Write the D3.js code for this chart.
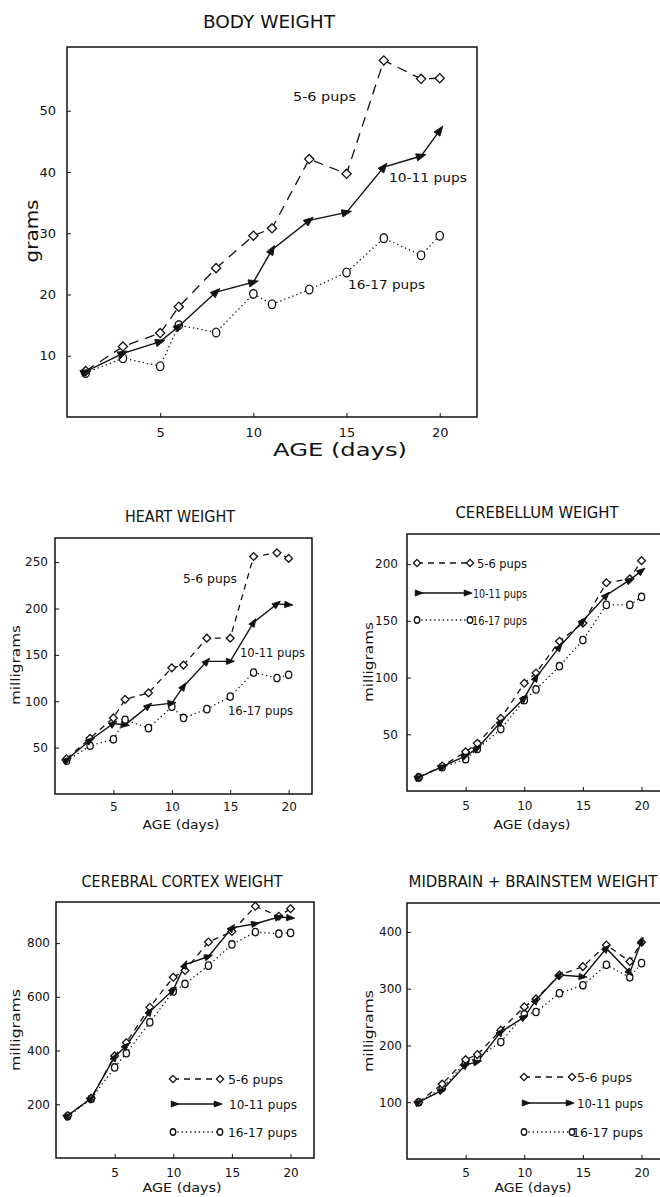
<!DOCTYPE html>
<html>
<head>
<meta charset="utf-8">
<script src="https://cdn.jsdelivr.net/npm/d3@7"></script>
<style>
  body { margin: 0; background: #fff; }
  text { font-family: "DejaVu Sans", sans-serif; fill: #111; }
</style>
</head>
<body>
<div id="chart"></div>
<script>
// data
const days = [1, 3, 5, 6, 8, 10, 11, 13, 15, 17, 19, 20];
const groups = ['5-6 pups', '10-11 pups', '16-17 pups'];
const xTicks = [5, 10, 15, 20];

const body5 = [7.5, 11.5, 13.7, 18, 24.3, 29.6, 30.8, 42.1, 39.7, 58.2, 55.2, 55.3];
const body10 = [7.4, 10.4, 12.3, 14.8, 20.4, 22, 27.3, 32.1, 33.4, 40.8, 42.6, 46.8];
const body16 = [7.2, 9.6, 8.3, 15, 13.8, 20.1, 18.4, 20.8, 23.6, 29.2, 26.4, 29.6];
const bodyTicks = [10, 20, 30, 40, 50];

const heart5 = [38, 60, 82, 102, 109, 136, 139, 168, 168, 256, 260, 254];
const heart10 = [37, 58, 76, 74.5, 95, 98, 116, 143, 143, 185, 205, 204];
const heart16 = [36, 52, 59, 80, 71, 94, 82, 91.5, 105, 131, 125, 128.5];
const heartTicks = [50, 100, 150, 200, 250];

const cereb5 = [12, 22, 34.5, 42, 64, 95, 104, 132, 148, 183.5, 187, 203];
const cereb10 = [12, 21.5, 31, 37.5, 61, 82, 100, 127, 150, 172.5, 186, 194];
const cereb16 = [12, 21, 28, 37, 54.6, 80, 89.5, 110, 133, 164, 164, 171];
const cerebTicks = [50, 100, 150, 200];

const cortex5 = [158, 222, 380, 430, 561, 673, 698, 804, 843, 937, 900, 928];
const cortex10 = [158, 222, 376, 418, 545, 626, 720, 750, 857, 872, 897, 894];
const cortex16 = [155, 220, 337, 390, 505, 620, 648, 716, 795, 841, 835, 838];
const cortexTicks = [200, 400, 600, 800];

const mid5 = [100, 132, 175, 184, 227, 268, 282, 324, 339, 377, 348, 382];
const mid10 = [100, 121, 166, 171, 224, 250, 280, 324, 321, 371, 328, 384];
const mid16 = [100, 125, 170, 178, 206, 255, 259, 292, 306, 342, 320, 345];
const midTicks = [100, 200, 300, 400];

const width = 660, height = 1197;
const ink = '#111';

let svg = d3.select('#chart').append('svg')
  .attr('width', width).attr('height', height);
svg.append('rect').attr('width', width).attr('height', height).attr('fill', '#fff');

// 1. panel layout
let panels = [
  {title: 'BODY WEIGHT', series: [body5, body10, body16], ymax: 60.4, yTicks: bodyTicks,
   left: 67, right: 477, top: 47, bottom: 417, ms: 4.6, dash: '10,7', tick: 13, big: true,
   ypad: 11, xpad: 11, titleAt: [269, 28, 132, 18], ylab: ['grams', 38, 231, 63, 17],
   xlab: [340, 456, 134, 18],
   labels: [[293, 101, 63], [389, 182, 78], [348, 289, 77]]},
  {title: 'HEART WEIGHT', series: [heart5, heart10, heart16], ymax: 276, yTicks: heartTicks,
   left: 55, right: 312, top: 538, bottom: 794, ms: 3.9, dash: '6,5', tick: 12,
   ypad: 7, xpad: 8, titleAt: [180, 522, 110, 15], ylab: ['milligrams', 20, 665, 80, 12],
   xlab: [181, 829, 77, 13],
   labels: [[183, 583, 54], [240, 657, 65], [228, 715, 65]]},
  {title: 'CEREBELLUM WEIGHT', series: [cereb5, cereb10, cereb16], ymax: 226.5, yTicks: cerebTicks,
   left: 407, right: 665, top: 534, bottom: 791, ms: 3.9, dash: '6,5', tick: 12,
   ypad: 9, xpad: 10, titleAt: [537, 518, 163, 15], ylab: ['milligrams', 373, 662, 80, 12],
   xlab: [532, 829, 77, 13],
   legend: {x1: 417, x2: 470, ys: [563, 593, 620], tx: [477, 473, 472], tw: [50, 54, 55]}},
  {title: 'CEREBRAL CORTEX WEIGHT', series: [cortex5, cortex10, cortex16], ymax: 953, yTicks: cortexTicks,
   left: 56, right: 314, top: 902, bottom: 1158, ms: 3.9, dash: '6,5', tick: 12,
   ypad: 6, xpad: 10, titleAt: [182, 887, 201, 15], ylab: ['milligrams', 20, 1030, 82, 12],
   xlab: [182, 1192, 79, 13],
   legend: {x1: 173, x2: 220, ys: [1079, 1104, 1132], tx: [228, 229, 228], tw: [55, 68, 69]}},
  {title: 'MIDBRAIN + BRAINSTEM WEIGHT', series: [mid5, mid10, mid16], ymax: 451, yTicks: midTicks,
   left: 407, right: 665, top: 903, bottom: 1159, ms: 3.9, dash: '6,5', tick: 12,
   ypad: 5, xpad: 9, titleAt: [533, 887, 249, 15], ylab: ['milligrams', 373, 1031, 82, 12],
   xlab: [533, 1192, 77, 13],
   legend: {x1: 524, x2: 572, ys: [1077, 1103, 1132], tx: [577, 577, 572], tw: [55, 66, 71]}}
];

// 2. marker shapes
function diamond(g, cx, cy, r) {
  g.append('path').attr('d', `M${cx},${cy - r}L${cx + r},${cy}L${cx},${cy + r}L${cx - r},${cy}Z`)
    .attr('fill', '#fff').attr('stroke', ink).attr('stroke-width', 1.3);
}
function arrow(g, cx, cy, r, ang) {
  g.append('path').attr('d', `M${-r},${-r * 0.8}L${r * 1.1},0L${-r},${r * 0.8}Z`)
    .attr('transform', `translate(${cx},${cy}) rotate(${ang})`)
    .attr('fill', ink).attr('stroke', ink).attr('stroke-width', 0.8);
}
function ring(g, cx, cy, r) {
  g.append('ellipse').attr('cx', cx).attr('cy', cy).attr('rx', r * 0.8).attr('ry', r * 0.95)
    .attr('fill', '#fff').attr('stroke', ink).attr('stroke-width', 1.3);
}

function drawPanel(p) {
  let x = d3.scaleLinear().domain([0, 22]).range([p.left, p.right]);
  let y = d3.scaleLinear().domain([0, p.ymax]).range([p.bottom, p.top]);
  let g = svg.append('g');

  // axes with small inward ticks
  let xa = g.append('g').attr('transform', `translate(0,${p.bottom})`)
    .call(d3.axisBottom(x).tickValues(xTicks).tickSize(-4).tickPadding(p.xpad));
  let ya = g.append('g').attr('transform', `translate(${p.left},0)`)
    .call(d3.axisLeft(y).tickValues(p.yTicks).tickSize(-4).tickPadding(p.ypad));
  [xa, ya].forEach(a => {
    a.select('.domain').remove();
    a.selectAll('line').attr('stroke', ink);
    a.selectAll('text').attr('font-size', p.tick).attr('fill', ink)
      .style('font-family', '"DejaVu Sans", sans-serif');
  });

  g.append('rect').attr('x', p.left).attr('y', p.top)
    .attr('width', p.right - p.left).attr('height', p.bottom - p.top)
    .attr('fill', 'none').attr('stroke', ink).attr('stroke-width', 1.5);

  // titles
  let [tx, ty, tw, ts] = p.titleAt;
  g.append('text').attr('x', tx).attr('y', ty).attr('text-anchor', 'middle')
    .attr('font-size', ts).attr('textLength', tw).attr('lengthAdjust', 'spacingAndGlyphs')
    .text(p.title);
  let [lt, lx, ly, lw, ls] = p.ylab;
  g.append('text').attr('transform', `translate(${lx},${ly}) rotate(-90)`)
    .attr('text-anchor', 'middle').attr('font-size', ls)
    .attr('textLength', lw).attr('lengthAdjust', 'spacingAndGlyphs').text(lt);
  let [ax, ay, aw, as] = p.xlab;
  g.append('text').attr('x', ax).attr('y', ay).attr('text-anchor', 'middle')
    .attr('font-size', as).attr('textLength', aw).attr('lengthAdjust', 'spacingAndGlyphs')
    .text('AGE (days)');

  // 3. series
  let styles = [
    {dash: p.dash, w: 1.3},
    {dash: null, w: 1.4},
    {dash: '1.3,3', w: 1.3}
  ];
  let line = d3.line().x(d => x(d[0])).y(d => y(d[1]));
  p.series.forEach((vals, i) => {
    let pts = days.map((d, k) => [d, vals[k]]);
    g.append('path').datum(pts).attr('d', line).attr('fill', 'none')
      .attr('stroke', ink).attr('stroke-width', styles[i].w)
      .attr('stroke-dasharray', styles[i].dash);
  });
  // markers drawn after lines, circles below diamonds below arrows
  [2, 0, 1].forEach(i => {
    let vals = p.series[i];
    days.forEach((d, k) => {
      let cx = x(d), cy = y(vals[k]);
      if (i === 0) diamond(g, cx, cy, p.ms);
      if (i === 2) ring(g, cx, cy, p.ms);
      if (i === 1) {
        let j = k === 0 ? 1 : k - 1;
        let a = k === 0 ? [cx, cy, x(days[1]), y(vals[1])] : [x(days[j]), y(vals[j]), cx, cy];
        let ang = Math.atan2(a[3] - a[1], a[2] - a[0]) * 180 / Math.PI;
        arrow(g, cx, cy, p.ms, ang);
      }
    });
  });

  // 4. inline labels
  if (p.labels) {
    p.labels.forEach((l, i) => {
      g.append('text').attr('x', l[0]).attr('y', l[1]).attr('font-size', p.big ? 13 : 12)
        .attr('textLength', l[2]).attr('lengthAdjust', 'spacingAndGlyphs').text(groups[i]);
    });
  }

  // 5. legend box entries
  if (p.legend) {
    let L = p.legend;
    L.ys.forEach((ly, i) => {
      g.append('line').attr('x1', L.x1).attr('x2', L.x2).attr('y1', ly).attr('y2', ly)
        .attr('stroke', ink).attr('stroke-width', styles[i].w)
        .attr('stroke-dasharray', styles[i].dash);
      if (i === 0) { diamond(g, L.x1, ly, 3.6); diamond(g, L.x2, ly, 3.6); }
      if (i === 1) { arrow(g, L.x1 + 2, ly, 3.8, 0); arrow(g, L.x2 - 2, ly, 3.8, 0); }
      if (i === 2) { ring(g, L.x1, ly, 3.4); ring(g, L.x2, ly, 3.4); }
      g.append('text').attr('x', L.tx[i]).attr('y', ly + 4.5).attr('font-size', 12)
        .attr('textLength', L.tw[i]).attr('lengthAdjust', 'spacingAndGlyphs').text(groups[i]);
    });
  }
}

panels.forEach(drawPanel);
</script>
</body>
</html>
